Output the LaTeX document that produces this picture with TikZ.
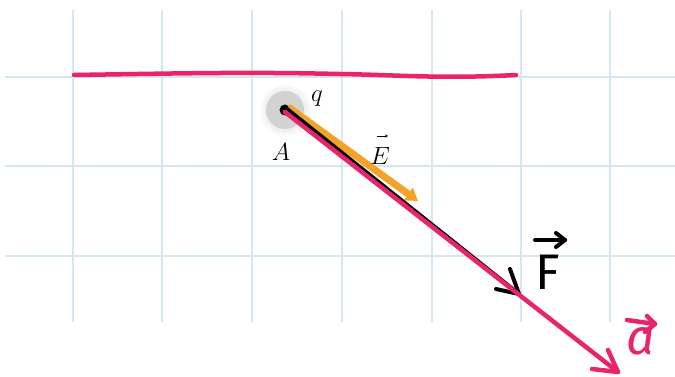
\documentclass[tikz,border=0pt]{standalone}
\usepackage{fontspec}
\newfontfamily\handfont{Fira Sans}
\usetikzlibrary{arrows.meta}
\definecolor{gridblue}{HTML}{D3E7F1}
\definecolor{hpink}{HTML}{E8246A}
\definecolor{eorange}{HTML}{F2A328}
\tikzset{
  gridline/.style={draw=gridblue,line width=1.5pt},
  pinkpen/.style={draw=hpink,line width=4.5pt,line cap=round,line join=round},
  blackpen/.style={draw=black,line width=4pt,line cap=round,line join=round},
  lbl/.style={inner sep=0pt,font=\fontsize{24}{24}\selectfont},
  hand/.style={inner sep=0pt,font=\handfont\fontsize{50}{50}\selectfont}
}
\begin{document}
\begin{tikzpicture}[x=1pt,y=-1pt]
\useasboundingbox[fill=white] (0,0) rectangle (675,377);
% grid
\foreach \gx in {73,162,252,342,432,521,610}
  \draw[gridline] (\gx,10) -- (\gx,322);
\foreach \gy in {77,166,256}
  \draw[gridline] (5,\gy) -- (675,\gy);
% charge
\shade[inner color=gray!45,outer color=white] (285,110) circle (27);
\fill[gray!35] (285,110) circle (19);
\node[circle,fill=black,minimum size=11pt,inner sep=0pt] (A) at (285,110) {};
\node[lbl] (qlbl) at (317,99) {$q$};
\node[lbl] (Albl) at (281,152) {$A$};
% orange E arrow
\coordinate (Etip) at (418,201);
\coordinate (Estart) at (288,107);
\draw[draw=eorange,line width=7pt,-{Triangle[length=12pt,width=15pt]}] (Estart) -- (Etip);
\node[lbl] (Elbl) at (380,156) {$E$};
\coordinate (Ev1) at (377,136);
\coordinate (Ev2) at (388,136);
\draw[line width=0.6pt,-{Stealth[length=3pt,width=3pt]}] (Ev1) -- (Ev2);
% top pink line
\coordinate (L1) at (74,75);
\coordinate (L2) at (516,75);
\draw[pinkpen] (L1) .. controls (200,73) and (250,72) .. (340,74) .. controls (400,75) and (440,79) .. (L2);
% black F arrow
\coordinate (Fstart) at (287,109);
\coordinate (Ftip) at (519,294);
\coordinate (Fh1) at (496,289);
\coordinate (Fh2) at (510,269);
\draw[blackpen] (Fstart) -- (Ftip);
\draw[blackpen] (Fh1) -- (Ftip) -- (Fh2);
\node[hand] (Flbl) at (548,272) {F};
\coordinate (Fa1) at (535,240);
\coordinate (Fa2) at (565,240);
\draw[blackpen] (Fa1) -- (Fa2);
\draw[blackpen] (556,233) -- (Fa2) -- (556,247);
% pink a arrow
\coordinate (astart) at (285,112);
\coordinate (atip) at (618,372);
\coordinate (ah1) at (592,369);
\coordinate (ah2) at (608,350);
\draw[pinkpen] (astart) -- (atip);
\draw[pinkpen] (ah1) -- (atip) -- (ah2);
\node[hand,text=hpink] (albl) at (641,341) {\itshape a};
\coordinate (aa1) at (627,320);
\coordinate (aa2) at (655,324);
\draw[pinkpen] (aa1) -- (aa2);
\draw[pinkpen] (647,316) -- (aa2) -- (645,332);
\end{tikzpicture}
\end{document}
